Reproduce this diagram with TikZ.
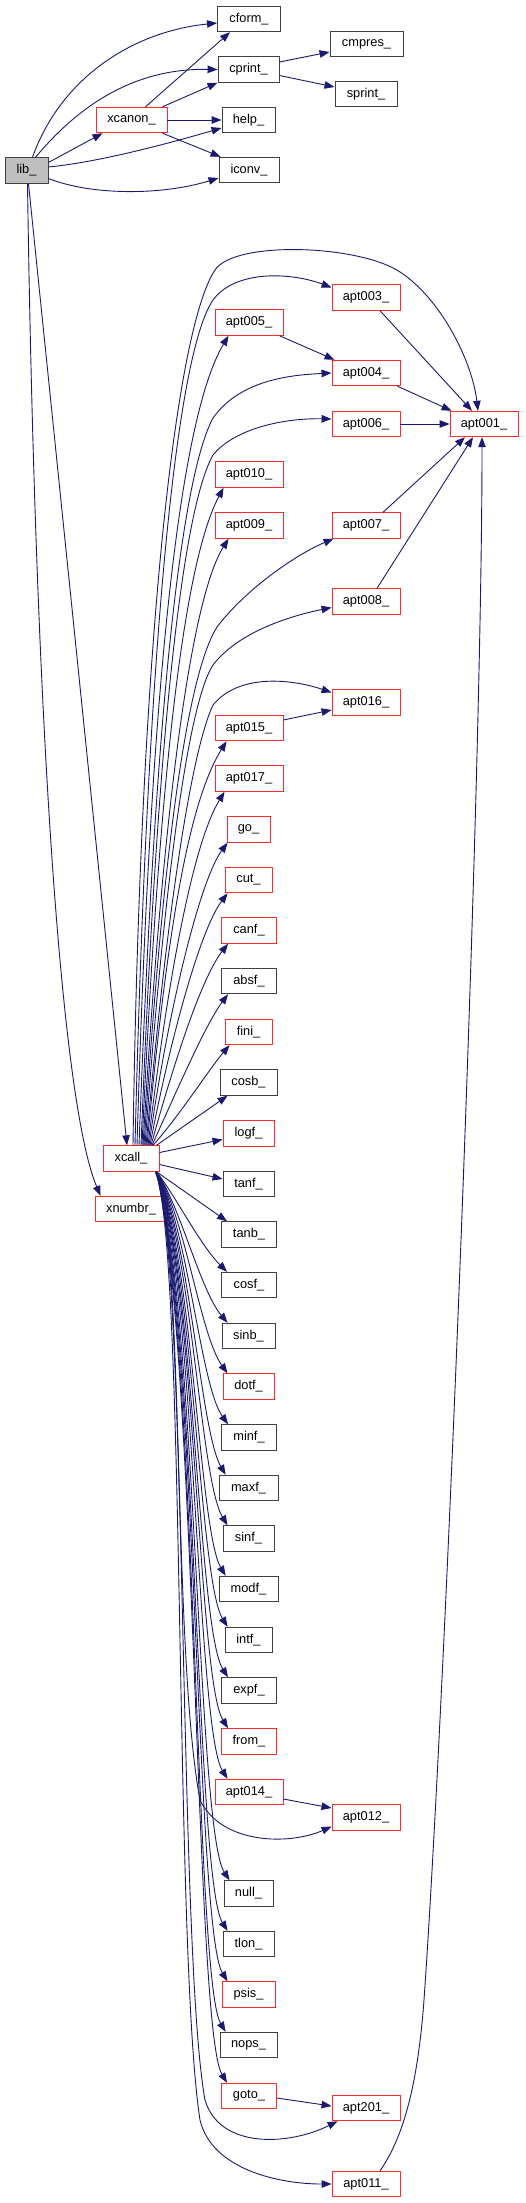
\documentclass[tikz,border=0pt]{standalone}
\usepackage{fontspec}
\setmainfont{Liberation Sans}
\usetikzlibrary{arrows.meta,calc}
\definecolor{edgec}{HTML}{191970}
\definecolor{redb}{HTML}{FF2A2A}
\definecolor{grayb}{HTML}{404040}
\definecolor{libfill}{HTML}{BFBFBF}
\begin{document}
\begin{tikzpicture}[x=1pt,y=-1pt,
 box/.style={draw, line width=0.9pt, minimum height=25.5pt, inner sep=0pt, font=\fontsize{12.8}{14}\selectfont, text=black},
 rbox/.style={box, draw=redb},
 bbox/.style={box, draw=grayb},
 e/.style={draw=edgec, line width=0.9pt, -{Triangle[length=10pt,width=7.5pt]}},
]
\useasboundingbox (0,0) rectangle (525,2203);
% nodes
\node[bbox, minimum width=43pt, fill=libfill] (lib) at (26.5,170.5) {lib\_};
\node[bbox, minimum width=63pt] (cform) at (249,19) {cform\_};
\node[bbox, minimum width=73pt] (cmpres) at (366.5,44) {cmpres\_};
\node[bbox, minimum width=61pt] (cprint) at (248.5,69.5) {cprint\_};
\node[bbox, minimum width=62pt] (sprint) at (366,94) {sprint\_};
\node[rbox, minimum width=71pt] (xcanon) at (131.5,120) {xcanon\_};
\node[bbox, minimum width=53pt] (help) at (248.5,120) {help\_};
\node[bbox, minimum width=60pt] (iconv) at (249,170) {iconv\_};
\node[rbox, minimum width=68pt] (apt003) at (366,297.5) {apt003\_};
\node[rbox, minimum width=68pt] (apt005) at (249,322.5) {apt005\_};
\node[rbox, minimum width=68pt] (apt004) at (366,373) {apt004\_};
\node[rbox, minimum width=68pt] (apt006) at (366,424) {apt006\_};
\node[rbox, minimum width=68pt] (apt001) at (484,424) {apt001\_};
\node[rbox, minimum width=68pt] (apt010) at (249,474.5) {apt010\_};
\node[rbox, minimum width=68pt] (apt009) at (249,525.5) {apt009\_};
\node[rbox, minimum width=68pt] (apt007) at (366,525.5) {apt007\_};
\node[rbox, minimum width=68pt] (apt008) at (366,601.5) {apt008\_};
\node[rbox, minimum width=68pt] (apt016) at (366,702.5) {apt016\_};
\node[rbox, minimum width=68pt] (apt015) at (249,728) {apt015\_};
\node[rbox, minimum width=68pt] (apt017) at (249,778.5) {apt017\_};
\node[rbox, minimum width=43pt] (go) at (248.5,829.5) {go\_};
\node[rbox, minimum width=47pt] (cut) at (248.5,880) {cut\_};
\node[rbox, minimum width=55pt] (canf) at (249,930.5) {canf\_};
\node[bbox, minimum width=55pt] (absf) at (249,981) {absf\_};
\node[rbox, minimum width=47pt] (fini) at (248.5,1032) {fini\_};
\node[bbox, minimum width=57pt] (cosb) at (248.5,1082.5) {cosb\_};
\node[rbox, minimum width=51pt] (logf) at (248.5,1133.5) {logf\_};
\node[rbox, minimum width=56pt] (xcall) at (131,1158.5) {xcall\_};
\node[bbox, minimum width=51pt] (tanf) at (248.5,1184) {tanf\_};
\node[rbox, minimum width=72pt] (xnumbr) at (131,1209) {xnumbr\_};
\node[bbox, minimum width=55pt] (tanb) at (249,1234.5) {tanb\_};
\node[bbox, minimum width=55pt] (cosf) at (249,1285) {cosf\_};
\node[bbox, minimum width=53pt] (sinb) at (248.5,1336) {sinb\_};
\node[rbox, minimum width=51pt] (dotf) at (248.5,1386.5) {dotf\_};
\node[bbox, minimum width=55pt] (minf) at (249,1437.5) {minf\_};
\node[bbox, minimum width=59pt] (maxf) at (248.5,1488) {maxf\_};
\node[bbox, minimum width=51pt] (sinf) at (248.5,1538.5) {sinf\_};
\node[bbox, minimum width=59pt] (modf) at (248.5,1589) {modf\_};
\node[bbox, minimum width=47pt] (intf) at (248.5,1640) {intf\_};
\node[bbox, minimum width=55pt] (expf) at (249,1690.5) {expf\_};
\node[rbox, minimum width=55pt] (from) at (249,1741.5) {from\_};
\node[rbox, minimum width=68pt] (apt014) at (249,1792) {apt014\_};
\node[rbox, minimum width=68pt] (apt012) at (366,1817.5) {apt012\_};
\node[bbox, minimum width=49pt] (null) at (248.5,1893.5) {null\_};
\node[bbox, minimum width=51pt] (tlon) at (248.5,1944) {tlon\_};
\node[rbox, minimum width=53pt] (psis) at (248.5,1994.5) {psis\_};
\node[bbox, minimum width=57pt] (nops) at (248.5,2045) {nops\_};
\node[rbox, minimum width=55pt] (goto) at (249,2096) {goto\_};
\node[rbox, minimum width=68pt] (apt201) at (366,2108) {apt201\_};
\node[rbox, minimum width=68pt] (apt011) at (366,2184) {apt011\_};
% lib edges
\draw[e] ([xshift=6pt]lib.north) .. controls (60,80) and (130,32) .. ([yshift=-4pt]cform.west);
\draw[e] ([xshift=9pt]lib.north) .. controls (75,110) and (130,68) .. (cprint.west);
\draw[e] ([yshift=8pt]lib.east) -- ([xshift=7pt]xcanon.south west);
\draw[e] ([yshift=3.5pt]lib.east) .. controls (100,162) and (170,143) .. ([yshift=-8pt]help.west);
\draw[e] ([yshift=-8pt]lib.east) .. controls (90,195) and (160,196) .. ([yshift=-8pt]iconv.west);
\draw[e] ([xshift=2pt]lib.south) -- ([xshift=-4pt]xcall.north);
\draw[e] ([xshift=1pt]lib.south) .. controls (35,700) and (60,1100) .. ([xshift=6pt]xnumbr.north west);
% xcanon edges
\draw[e] ([xshift=14pt]xcanon.north) -- ([xshift=-19pt]cform.south);
\draw[e] ([xshift=-5pt]xcanon.north east) -- (cprint.south west);
\draw[e] (xcanon.east) -- (help.west);
\draw[e] ([xshift=-5pt]xcanon.south east) -- ([xshift=2pt]iconv.north west);
% cprint edges
\draw[e] ([yshift=7.5pt]cprint.east) -- ([yshift=-8pt]cmpres.west);
\draw[e] ([yshift=-6pt]cprint.east) -- ([yshift=7pt]sprint.west);
% apt edges
\draw[e] ([xshift=14pt]apt003.south) -- ([xshift=-12pt]apt001.north);
\draw[e] ([xshift=-4pt]apt005.south east) -- ([xshift=3pt]apt004.north west);
\draw[e] ([xshift=-3pt]apt004.south east) -- ([xshift=2pt]apt001.north west);
\draw[e] (apt006.east) -- (apt001.west);
\draw[e] ([xshift=17pt]apt007.north) -- ([xshift=-19pt]apt001.south);
\draw[e] ([xshift=11pt]apt008.north) -- ([xshift=-11pt]apt001.south);
\draw[e] ([xshift=14pt]apt011.north) .. controls (405,2135) and (418,2080) .. (424,2000) .. controls (445,1700) and (482,800) .. ([xshift=-2pt]apt001.south);
\draw[e] ([yshift=8pt]apt015.east) -- ([yshift=-7.5pt]apt016.west);
\draw[e] ([yshift=-7pt]apt014.east) -- ([yshift=9.5pt]apt012.west);
\draw[e] ([yshift=-2pt]goto.east) -- ([yshift=2pt]apt201.west);
% xcall upward edges
\draw[e] ([xshift=2pt]xcall.north) .. controls (140,650) and (175,330) .. (215,270) .. controls (235,240) and (360,245) .. (400,272) .. controls (440,298) and (472,360) .. ([xshift=-6pt]apt001.north);
\draw[e] ([xshift=4pt]xcall.north) .. controls (146,700) and (172,360) .. (213,300) .. controls (235,270) and (290,272) .. ([yshift=10pt]apt003.west);
\draw[e] ([xshift=6pt]xcall.north) .. controls (150,700) and (178,420) .. ([xshift=14pt]apt005.south west);
\draw[e] ([xshift=8pt]xcall.north) .. controls (155,720) and (180,480) .. (213,418) .. controls (240,380) and (290,375) .. (apt004.west);
\draw[e] ([xshift=10pt]xcall.north) .. controls (157,740) and (182,510) .. (213,455) .. controls (235,428) and (285,418) .. ([yshift=5pt]apt006.west);
\draw[e] ([xshift=11pt]xcall.north) .. controls (160,760) and (185,560) .. ([xshift=9pt]apt010.south west);
\draw[e] ([xshift=12pt]xcall.north) .. controls (162,820) and (190,600) .. ([xshift=14pt]apt009.south west);
\draw[e] ([xshift=13pt]xcall.north) .. controls (165,820) and (190,670) .. (217,627) .. controls (245,590) and (295,555) .. ([xshift=2pt]apt007.south west);
\draw[e] ([xshift=14pt]xcall.north) .. controls (166,860) and (190,700) .. (213,665) .. controls (240,630) and (295,615) .. ([yshift=-6pt]apt008.west);
\draw[e] ([xshift=15pt]xcall.north) .. controls (168,900) and (192,750) .. (213,705) .. controls (240,672) and (295,680) .. ([yshift=10pt]apt016.west);
\draw[e] ([xshift=16pt]xcall.north) .. controls (168,920) and (190,800) .. ([xshift=12pt]apt015.south west);
\draw[e] ([xshift=17pt]xcall.north) .. controls (170,960) and (195,840) .. ([xshift=10pt]apt017.south west);
\draw[e] ([xshift=18pt]xcall.north) .. controls (168,1010) and (200,880) .. ([xshift=1pt]go.south west);
\draw[e] ([xshift=19pt]xcall.north) .. controls (170,1040) and (200,930) .. ([xshift=3pt]cut.south west);
\draw[e] ([xshift=20pt]xcall.north) .. controls (172,1070) and (200,980) .. ([xshift=7pt]canf.south west);
\draw[e] ([xshift=21pt]xcall.north) .. controls (175,1095) and (205,1025) .. ([xshift=7pt]absf.south west);
\draw[e] ([xshift=22pt]xcall.north) .. controls (180,1115) and (210,1068) .. ([xshift=5pt]fini.south west);
\draw[e] ([xshift=-3pt]xcall.north east) -- ([xshift=8pt]cosb.south west);
\draw[e] ([yshift=6pt]xcall.east) -- ([yshift=-6pt]logf.west);
\draw[e] ([yshift=-6pt]xcall.east) -- ([yshift=5pt]tanf.west);
% xcall downward edges
\draw[e] ([xshift=-3pt]xcall.south east) -- ([xshift=6pt]tanb.north west);
\draw[e] ([xshift=-3pt]xcall.south east) .. controls (175,1195) and (200,1245) .. ([xshift=6pt]cosf.north west);
\draw[e] ([xshift=-3pt]xcall.south east) .. controls (180,1205) and (200,1290) .. ([xshift=6pt]sinb.north west);
\draw[e] ([xshift=-3pt]xcall.south east) .. controls (185,1215) and (200,1335) .. ([xshift=5pt]dotf.north west);
\draw[e] ([xshift=-3pt]xcall.south east) .. controls (188,1225) and (200,1385) .. ([xshift=7pt]minf.north west);
\draw[e] ([xshift=-3pt]xcall.south east) .. controls (190,1235) and (200,1430) .. ([xshift=7pt]maxf.north west);
\draw[e] ([xshift=-3pt]xcall.south east) .. controls (192,1245) and (200,1480) .. ([xshift=5pt]sinf.north west);
\draw[e] ([xshift=-3pt]xcall.south east) .. controls (193,1255) and (199,1530) .. ([xshift=7pt]modf.north west);
\draw[e] ([xshift=-3pt]xcall.south east) .. controls (194,1265) and (199,1580) .. ([xshift=3pt]intf.north west);
\draw[e] ([xshift=-3pt]xcall.south east) .. controls (195,1275) and (198,1630) .. ([xshift=7pt]expf.north west);
\draw[e] ([xshift=-3pt]xcall.south east) .. controls (196,1285) and (198,1680) .. ([xshift=7pt]from.north west);
\draw[e] ([xshift=-3pt]xcall.south east) .. controls (196,1295) and (197,1730) .. ([xshift=13pt]apt014.north west);
\draw[e] ([xshift=-3pt]xcall.south east) .. controls (197,1310) and (197,1830) .. ([xshift=6pt]null.north west);
\draw[e] ([xshift=-3pt]xcall.south east) .. controls (197,1320) and (196,1880) .. ([xshift=5pt]tlon.north west);
\draw[e] ([xshift=-3pt]xcall.south east) .. controls (197,1330) and (196,1930) .. ([xshift=6pt]psis.north west);
\draw[e] ([xshift=-3pt]xcall.south east) .. controls (197,1340) and (195,1980) .. ([xshift=6pt]nops.north west);
\draw[e] ([xshift=-3pt]xcall.south east) .. controls (197,1350) and (195,2030) .. ([xshift=6pt]goto.north west);
\draw[e] ([xshift=-4pt]xcall.south east) .. controls (185,1240) and (172,1650) .. (200,1800) .. controls (222,1845) and (290,1845) .. ([yshift=-9pt]apt012.west);
\draw[e] ([xshift=-4pt]xcall.south east) .. controls (188,1250) and (178,1950) .. (205,2100) .. controls (220,2150) and (290,2145) .. ([xshift=6pt]apt201.south west);
\draw[e] ([xshift=-4pt]xcall.south east) .. controls (186,1250) and (174,1950) .. (200,2120) .. controls (212,2170) and (280,2184) .. (apt011.west);
\end{tikzpicture}
\end{document}
